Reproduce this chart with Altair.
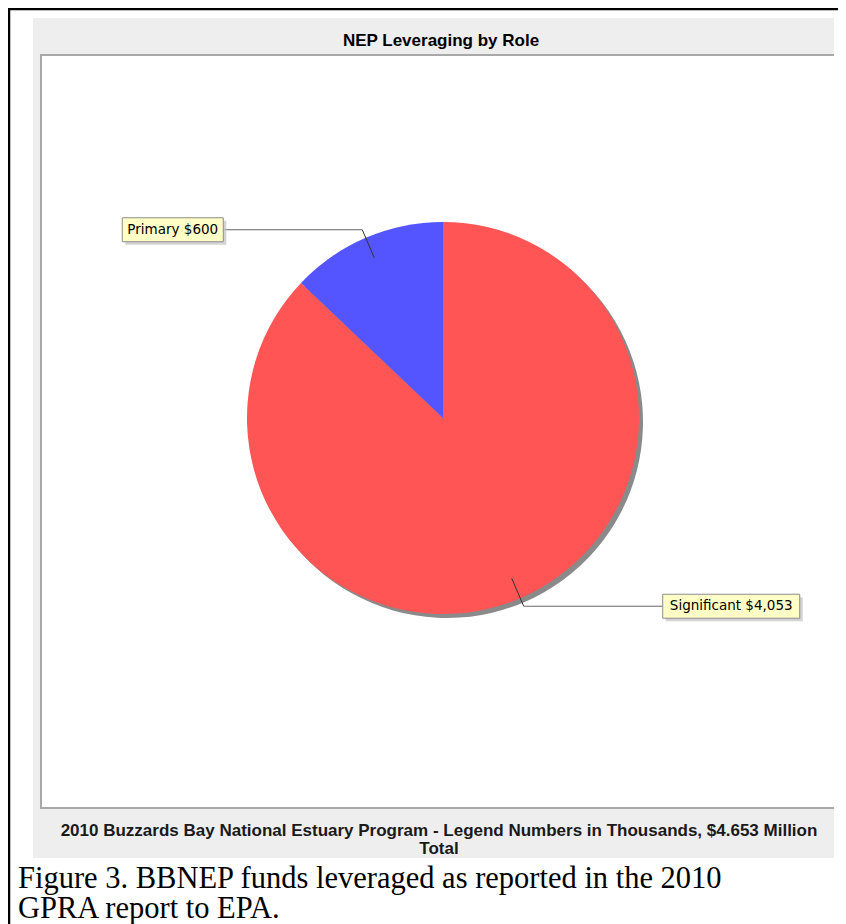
import math
import altair as alt
import pandas as pd

# ---- data ----
roles = ["Significant", "Primary"]
values = [4053, 600]
label_texts = ["Significant $4,053", "Primary $600"]
slice_colors = ["#FF5555", "#5555FF"]
title_text = ["NEP Leveraging by Role"]
subtitle_lines = ["2010 Buzzards Bay National Estuary Program - Legend Numbers in Thousands, $4.653 Million", "Total"]
caption_lines = ["Figure 3. BBNEP funds leveraged as reported in the 2010", "GPRA report to EPA."]

W, H = 830, 916
CX, CY, R = 435, 410, 196
SANS = "Liberation Sans, Arial, sans-serif"

pie_df = pd.DataFrame({"role": roles, "value": values, "ord": list(range(len(roles)))})

# leader lines / label boxes derived from slice mid-angles
total = sum(values)
seg_rows, box_rows = [], []
cum = 0.0
for role, v, txt in zip(roles, values, label_texts):
    mid = (cum + v / 2.0) / total * 2 * math.pi
    cum += v
    s, c = math.sin(mid), math.cos(mid)
    x0, y0 = CX + 0.89 * R * s, CY - 0.89 * R * c
    x1, y1 = CX + 1.045 * R * s, CY - 1.045 * R * c
    bw = 6 * len(txt) + 29
    if s < 0:
        xe = x1 - 139
        bx1, bx2 = xe - bw, xe
    else:
        xe = x1 + 139
        bx1, bx2 = xe, xe + bw
    seg_rows.append({"x": x0, "y": y0, "x2": x1, "y2": y1, "c": "#333333"})
    seg_rows.append({"x": x1, "y": y1, "x2": xe, "y2": y1, "c": "#666666"})
    box_rows.append({"label": txt, "bx1": bx1, "bx2": bx2, "by1": y1 - 12, "by2": y1 + 12,
                     "tx": (bx1 + bx2) / 2, "ty": y1})
seg_df = pd.DataFrame(seg_rows)
box_df = pd.DataFrame(box_rows)
one = pd.DataFrame({"k": [0]})

# ---- frame ----
border_v = alt.Chart(one).mark_rule(color="black", strokeWidth=2.5).encode(
    x=alt.value(1), y=alt.value(0), y2=alt.value(H))
border_h = alt.Chart(one).mark_rule(color="black", strokeWidth=2.5).encode(
    x=alt.value(0), x2=alt.value(W), y=alt.value(1))
grey_bg = alt.Chart(one).mark_rect(color="#EEEEEE").encode(
    x=alt.value(25), x2=alt.value(826), y=alt.value(10), y2=alt.value(850))
plot_bg = alt.Chart(one).mark_rect(color="white").encode(
    x=alt.value(33), x2=alt.value(826), y=alt.value(47), y2=alt.value(800))
plot_top = alt.Chart(one).mark_rule(color="#A8A8A8", strokeWidth=2).encode(
    x=alt.value(32), x2=alt.value(826), y=alt.value(47))
plot_bot = alt.Chart(one).mark_rule(color="#A8A8A8", strokeWidth=2).encode(
    x=alt.value(32), x2=alt.value(826), y=alt.value(800))
plot_left = alt.Chart(one).mark_rule(color="#A8A8A8", strokeWidth=2).encode(
    x=alt.value(33), y=alt.value(47), y2=alt.value(800))

# ---- pie ----
shadow = alt.Chart(pie_df).mark_arc(radius=R).encode(
    theta=alt.Theta("value:Q", stack=True),
    order=alt.Order("ord:Q"),
    color=alt.value("#8A8A8A"),
    x=alt.value(CX + 4), y=alt.value(CY + 4))
pie = alt.Chart(pie_df).mark_arc(radius=R).encode(
    theta=alt.Theta("value:Q", stack=True),
    order=alt.Order("ord:Q"),
    color=alt.Color("role:N", scale=alt.Scale(domain=roles, range=slice_colors), legend=None),
    x=alt.value(CX), y=alt.value(CY))

leaders = alt.Chart(seg_df).mark_rule(strokeWidth=1).encode(
    x=alt.X("x:Q", scale=None), y=alt.Y("y:Q", scale=None),
    x2="x2:Q", y2="y2:Q", color=alt.Color("c:N", scale=None))

box_shadow = alt.Chart(box_df).mark_rect(color="#C8C8C8", opacity=0.8).encode(
    x=alt.X("sx1:Q", scale=None), x2="sx2:Q", y=alt.Y("sy1:Q", scale=None), y2="sy2:Q"
).transform_calculate(sx1="datum.bx1 + 3", sx2="datum.bx2 + 3", sy1="datum.by1 + 3", sy2="datum.by2 + 3")
boxes = alt.Chart(box_df).mark_rect(fill="#FFFFC6", stroke="#8C8C8C", strokeWidth=1).encode(
    x=alt.X("bx1:Q", scale=None), x2="bx2:Q", y=alt.Y("by1:Q", scale=None), y2="by2:Q")
box_text = alt.Chart(box_df).mark_text(font="DejaVu Sans", fontSize=13.5, color="black",
                                       align="center", baseline="middle").encode(
    x=alt.X("tx:Q", scale=None), y=alt.Y("ty:Q", scale=None), text="label:N")

# ---- texts ----
title = alt.Chart(pd.DataFrame({"t": title_text})).mark_text(
    font=SANS, fontSize=17, fontWeight="bold", color="black", align="center", baseline="alphabetic"
).encode(x=alt.value(433), y=alt.value(38), text="t:N")

sub_df = pd.DataFrame({"t": subtitle_lines, "i": list(range(len(subtitle_lines)))})
subtitle = alt.Chart(sub_df).mark_text(
    font=SANS, fontSize=17, fontWeight="bold", color="#1a1a1a", align="center", baseline="alphabetic"
).encode(x=alt.value(431), y=alt.Y("yy:Q", scale=None), text="t:N").transform_calculate(
    yy="828 + datum.i * 18")

cap_df = pd.DataFrame({"t": caption_lines, "i": list(range(len(caption_lines)))})
caption = alt.Chart(cap_df).mark_text(
    font="Liberation Serif", fontSize=30.5, color="black", align="left", baseline="alphabetic"
).encode(x=alt.value(10), y=alt.Y("yy:Q", scale=None), text="t:N").transform_calculate(
    yy="880 + datum.i * 30")

chart = alt.layer(
    grey_bg, plot_bg, plot_top, plot_bot, plot_left, border_v, border_h,
    shadow, pie, leaders, box_shadow, boxes, box_text,
    title, subtitle, caption,
).properties(
    width=W, height=H, padding=0, background="white",
    autosize=alt.AutoSizeParams(type="none"),
).configure_view(strokeWidth=0)

chart.save("out.html", embed_options={"renderer": "svg", "actions": False})
